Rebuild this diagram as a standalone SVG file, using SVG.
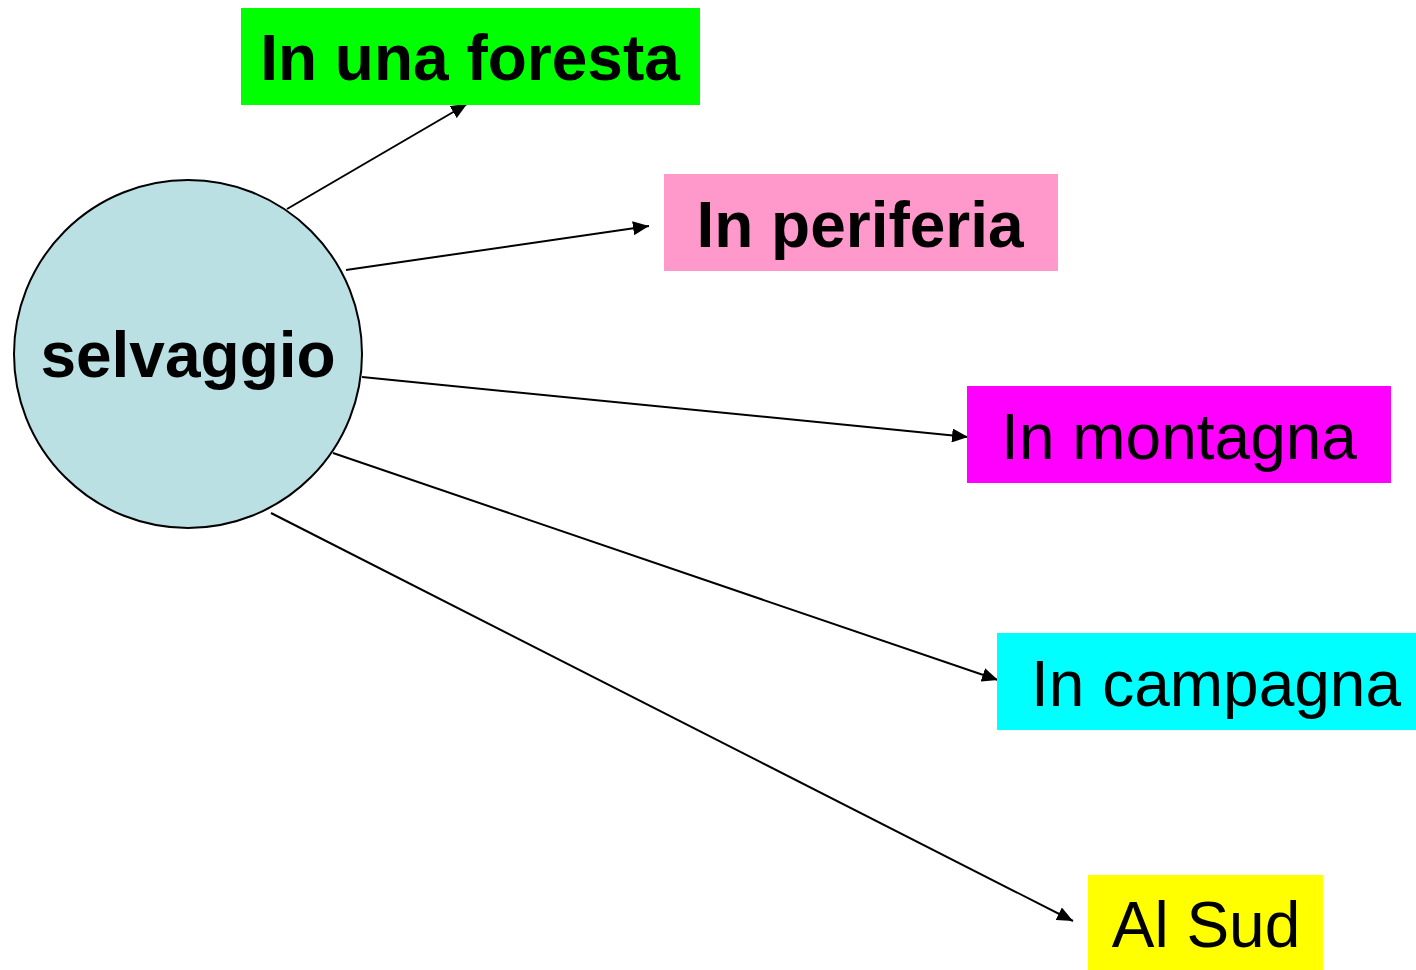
<svg xmlns="http://www.w3.org/2000/svg" width="1416" height="970" viewBox="0 0 1416 970">
<style>
.t{font-family:"Liberation Sans",Arial,sans-serif;font-size:64px;fill:#000}
.b{font-weight:bold}
.c{stroke:#000;stroke-width:2;fill:none}
</style>
<defs>
<marker id="ah" markerWidth="8" markerHeight="7" refX="8" refY="3.5" orient="auto" markerUnits="strokeWidth">
<path d="M0,0 L8,3.5 L0,7 Z" fill="#000"/>
</marker>
</defs>
<rect width="1416" height="970" fill="#fff"/>
<g id="connectors">
<line class="c" x1="287" y1="209" x2="467" y2="104" marker-end="url(#ah)"/>
<line class="c" x1="346" y1="270" x2="649" y2="226" marker-end="url(#ah)"/>
<line class="c" x1="362" y1="377" x2="968" y2="437" marker-end="url(#ah)"/>
<line class="c" x1="333" y1="453" x2="998" y2="680" marker-end="url(#ah)"/>
<line class="c" x1="271" y1="513" x2="1073" y2="921" marker-end="url(#ah)"/>
</g>
<g id="selvaggio">
<circle cx="188" cy="354" r="174" fill="#BAE0E3" stroke="#000" stroke-width="2"/>
<text class="t b" x="188" y="377" text-anchor="middle">selvaggio</text>
</g>
<g id="foresta">
<rect x="241" y="8" width="459" height="97" fill="#00FF00"/>
<text class="t b" x="470" y="80" text-anchor="middle">In una foresta</text>
</g>
<g id="periferia">
<rect x="664" y="174" width="394" height="97" fill="#FF99CC"/>
<text class="t b" x="860" y="247" text-anchor="middle">In periferia</text>
</g>
<g id="montagna">
<rect x="967" y="386" width="424" height="97" fill="#FF00FF"/>
<text class="t" x="1179" y="459" text-anchor="middle">In montagna</text>
</g>
<g id="campagna">
<rect x="997" y="633" width="419" height="97" fill="#00FFFF"/>
<text class="t" x="1216" y="706" text-anchor="middle">In campagna</text>
</g>
<g id="sud">
<rect x="1088" y="875" width="235" height="95" fill="#FFFF00"/>
<text class="t" x="1206" y="947" text-anchor="middle">Al Sud</text>
</g>
</svg>
